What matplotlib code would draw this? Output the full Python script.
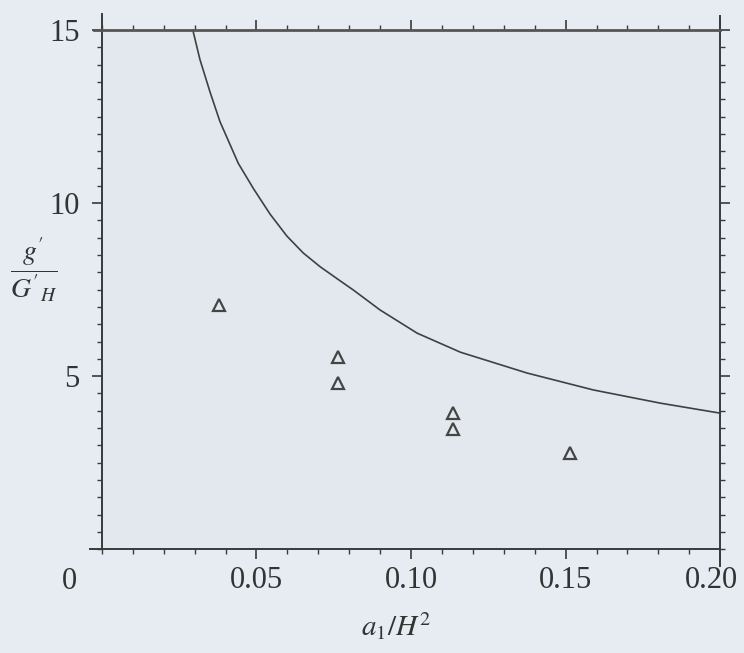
import numpy as np
import matplotlib.pyplot as plt
from matplotlib.ticker import MultipleLocator
from matplotlib.transforms import ScaledTranslation

# 理论曲线
curve_x = [0.0294, 0.0317, 0.0350, 0.0382, 0.0414, 0.0441, 0.0490, 0.0544, 0.0598,
           0.0651, 0.0706, 0.0760, 0.0813, 0.0900, 0.102, 0.116, 0.1375, 0.159,
           0.1806, 0.200]
curve_y = [15.0, 14.15, 13.2, 12.35, 11.7, 11.15, 10.42, 9.68, 9.05,
           8.56, 8.16, 7.82, 7.49, 6.91, 6.24, 5.69, 5.09, 4.6,
           4.22, 3.93]

# 实验点 (三角形)
pts_x = [0.0380, 0.0764, 0.0764, 0.1136, 0.1136, 0.1515]
pts_y = [7.05, 5.55, 4.80, 3.93, 3.47, 2.77]

xticks = [0.05, 0.10, 0.15, 0.20]
xticklabels = ['0.05', '0.10', '0.15', '0.20']
yticks = [5, 10, 15]
yticklabels = ['5', '10', '15']

plt.rcParams['font.family'] = ['Liberation Serif', 'DejaVu Serif']
plt.rcParams['mathtext.fontset'] = 'stix'

ink = '#3a3a3a'
fig = plt.figure(figsize=(7.44, 6.53), dpi=100, facecolor='#e6ecf2')
ax = fig.add_axes([0.137, 0.159, 0.831, 0.795], facecolor='#e2e8ee')

ax.plot(curve_x, curve_y, color='#404040', lw=1.2, clip_on=False)
ax.plot(pts_x, pts_y, linestyle='none', marker='^', ms=9, mfc='none',
        mec='#454545', mew=1.6)

ax.set_xlim(0, 0.20)
ax.set_ylim(0, 15)
ax.set_xticks(xticks)
ax.set_xticklabels(xticklabels)
ax.set_yticks(yticks)
ax.set_yticklabels(yticklabels)
ax.xaxis.set_minor_locator(MultipleLocator(0.01))
ax.yaxis.set_minor_locator(MultipleLocator(0.5))

ax.tick_params(which='both', direction='out', color=ink, top=True, right=True,
               labelcolor='#333333', labelsize=22)
ax.tick_params(axis='x', which='major', length=7, width=1.2, pad=5)
ax.tick_params(axis='y', which='major', length=7, width=1.2, pad=9)
ax.tick_params(which='minor', length=3.5, width=1.0)
ax.tick_params(axis='x', which='both', top=True, labeltop=False)

# 最后一个刻度标签稍微左移，避免出界
last = ax.get_xticklabels()[-1]
last.set_transform(last.get_transform() + ScaledTranslation(-0.09, 0, fig.dpi_scale_trans))

for s in ax.spines.values():
    s.set_color(ink)
    s.set_linewidth(1.4)
ax.spines['top'].set_linewidth(2.0)
ax.spines['top'].set_color('#555555')
ax.spines['bottom'].set_bounds(-0.004, 0.20)
ax.spines['top'].set_bounds(-0.0025, 0.20)
ax.spines['left'].set_bounds(0, 15.45)
ax.spines['right'].set_bounds(-0.5, 15.4)

# 原点的 "0"
ax.text(-0.0105, -0.035, '0', transform=ax.get_xaxis_transform(),
        ha='center', va='top', fontsize=22, color='#333333')

ax.set_xlabel(r'$a_1/H^2$', fontsize=21, color='#333333')
ax.xaxis.set_label_coords(0.475, -0.118)
ax.text(-0.11, 0.537, r"$\dfrac{g'}{G'_H}$", transform=ax.transAxes,
        ha='center', va='center', fontsize=20, color='#333333')

fig.savefig('out.png', dpi=100, facecolor=fig.get_facecolor())
